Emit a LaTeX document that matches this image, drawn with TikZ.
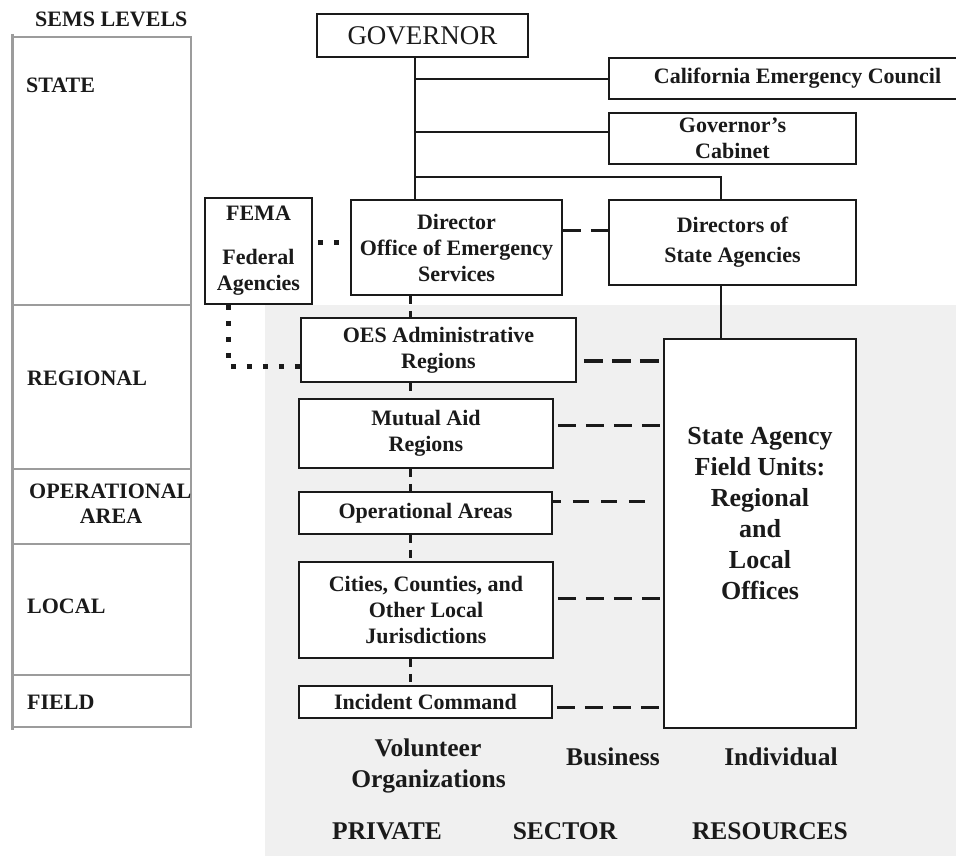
\documentclass[tikz,border=0pt]{standalone}
\usepackage{fontspec}
\setmainfont{Liberation Serif}
\newcommand\boxfont{\fontsize{22}{26}\selectfont\bfseries}
\newcommand\govfont{\fontsize{27}{30}\selectfont}
\newcommand\bigfont{\fontsize{26}{31}\selectfont\bfseries}
\newcommand\botfont{\fontsize{25.5}{31}\selectfont\bfseries}
\definecolor{bggray}{HTML}{F0F0F0}
\definecolor{tblgray}{HTML}{9C9C9C}
\definecolor{ink}{HTML}{1A1A1A}
\begin{document}
\begin{tikzpicture}[x=1pt,y=-1pt,
  box/.style={draw=ink, line width=1.8pt, fill=white, align=center, inner sep=0pt, font=\boxfont, text=ink},
  lbl/.style={inner sep=0pt, font=\boxfont, text=ink},
  fldtext/.style={inner sep=0pt, align=center, font=\bigfont, text=ink},
  bottxt/.style={inner sep=0pt, align=center, font=\botfont, text=ink, anchor=base},
  conn/.style={draw=ink, line width=1.8pt},
  hdash/.style={draw=ink, line width=3pt, dash pattern=on 18pt off 10pt},
  vdash/.style={draw=ink, line width=3pt, dash pattern=on 8pt off 7pt},
  dots/.style={draw=ink, line width=5pt, dash pattern=on 5pt off 11pt},
  tbl/.style={draw=tblgray, line width=2pt}
]
\clip (0,0) rectangle (956,856);
\fill[bggray] (265,305) rectangle (956,856);

% SEMS levels table
\draw[tbl] (12,37) rectangle (191,727);
\draw[tbl] (12,305) -- (191,305);
\draw[tbl] (12,469) -- (191,469);
\draw[tbl] (12,544) -- (191,544);
\draw[tbl] (12,675) -- (191,675);
\draw[draw=tblgray, line width=3pt] (12,34) -- (12,730);
\node[lbl, anchor=base west] (sems) at (35,27) {SEMS LEVELS};
\node[lbl, anchor=base west] (lstate) at (26,93) {STATE};
\node[lbl, anchor=base west] (lreg) at (27,385) {REGIONAL};
\node[lbl, anchor=base west] (lop) at (29,498) {OPERATIONAL};
\node[lbl, anchor=base] (larea) at (111,523) {AREA};
\node[lbl, anchor=base west] (lloc) at (27,613) {LOCAL};
\node[lbl, anchor=base west] (lfld) at (27,709) {FIELD};

% boxes
\node[box, font=\govfont, minimum width=211pt, minimum height=43pt] (gov) at (422.5,35.5) {GOVERNOR};
\node[box, minimum width=377pt, minimum height=41pt] (cec) at (797.5,78.5) {California Emergency Council};
\node[box, minimum width=247pt, minimum height=51pt] (cab) at (732.5,138.5) {\raisebox{-3pt}{Governor's}\\\raisebox{-3pt}{Cabinet}};
\node[box, minimum width=211pt, minimum height=95pt] (dir) at (456.5,247.5) {Director\\Office of Emergency\\Services};
\node[box, minimum width=247pt, minimum height=85pt] (dsa) at (732.5,242.5) {Directors of\\[4pt]State Agencies};
\node[box, minimum width=107pt, minimum height=106pt] (fema) at (258.5,251) {FEMA\\[18pt]Federal\\Agencies};
\node[box, minimum width=275pt, minimum height=64pt] (oes) at (438.5,350) {OES Administrative\\Regions};
\node[box, minimum width=254pt, minimum height=69pt] (mar) at (426,433.5) {Mutual Aid\\Regions};
\node[box, minimum width=253pt, minimum height=42pt] (opa) at (425.5,513) {Operational Areas};
\node[box, minimum width=254pt, minimum height=96pt] (cit) at (426,610) {Cities, Counties, and\\Other Local\\Jurisdictions};
\node[box, minimum width=253pt, minimum height=32pt] (inc) at (425.5,702) {Incident Command};
\node[box, minimum width=192pt, minimum height=389pt] (fld) at (760,533.5) {};
\node[fldtext] (fldt) at (760,514) {State Agency\\Field Units:\\Regional\\and\\Local\\Offices};

% helper coordinates
\coordinate (gx) at (415,0);
\coordinate (cecY) at (0,79);
\coordinate (cabY) at (0,132);
\coordinate (spY) at (0,177);
\coordinate (dsax) at (721,0);
\coordinate (ddY) at (0,230);
\coordinate (vx) at (410,0);
\coordinate (fy) at (0,242);
\coordinate (fc) at (228,366);
\coordinate (oY) at (0,361);
\coordinate (mY) at (0,425);
\coordinate (pY) at (0,501);
\coordinate (cY) at (0,598);
\coordinate (iY) at (0,707);

% solid connectors
\draw[conn] (gov.south -| gx) -- (dir.north -| gx);
\draw[conn] (gx |- cecY) -- (cec.west |- cecY);
\draw[conn] (gx |- cabY) -- (cab.west |- cabY);
\draw[conn] (gx |- spY) -- (dsax |- spY) -- (dsax |- dsa.north);
\draw[conn] (dsax |- dsa.south) -- (dsax |- fld.north);

% dashed connectors
\draw[hdash] (dir.east |- ddY) -- (dsa.west |- ddY);
\draw[vdash] (vx |- dir.south) -- (vx |- oes.north);
\draw[vdash] (vx |- oes.south) -- (vx |- mar.north);
\draw[vdash] (vx |- mar.south) -- (vx |- opa.north);
\draw[vdash] (vx |- opa.south) -- (vx |- cit.north);
\draw[vdash] (vx |- cit.south) -- (vx |- inc.north);

\draw[hdash, line width=4pt, dash pattern=on 19pt off 9pt, dash phase=21pt] (oes.east |- oY) -- (fld.west |- oY);
\draw[hdash, dash phase=24pt] (mar.east |- mY) -- (fld.west |- mY);
\draw[hdash, dash pattern=on 16pt off 12pt, dash phase=8pt, shorten >=11pt] (opa.east |- pY) -- (fld.west |- pY);
\draw[hdash, dash phase=24pt] (cit.east |- cY) -- (fld.west |- cY);
\draw[hdash, dash phase=24pt] (inc.east |- iY) -- (fld.west |- iY);

% dotted connectors
\draw[dots, dash phase=11pt] (fema.east |- fy) -- (dir.west |- fy);
\draw[dots] (fc |- fema.south) -- (fc) -- (fc -| oes.west);

% private sector
\node[bottxt] (vol) at (428,756) {Volunteer};
\node[bottxt] (org) at (428.5,787) {Organizations};
\node[bottxt] (bus) at (613,765) {Business};
\node[bottxt] (ind) at (781,765) {Individual};
\node[bottxt] (priv) at (387,839) {PRIVATE};
\node[bottxt] (sect) at (565,839) {SECTOR};
\node[bottxt] (res) at (770,839) {RESOURCES};
\end{tikzpicture}
\end{document}
